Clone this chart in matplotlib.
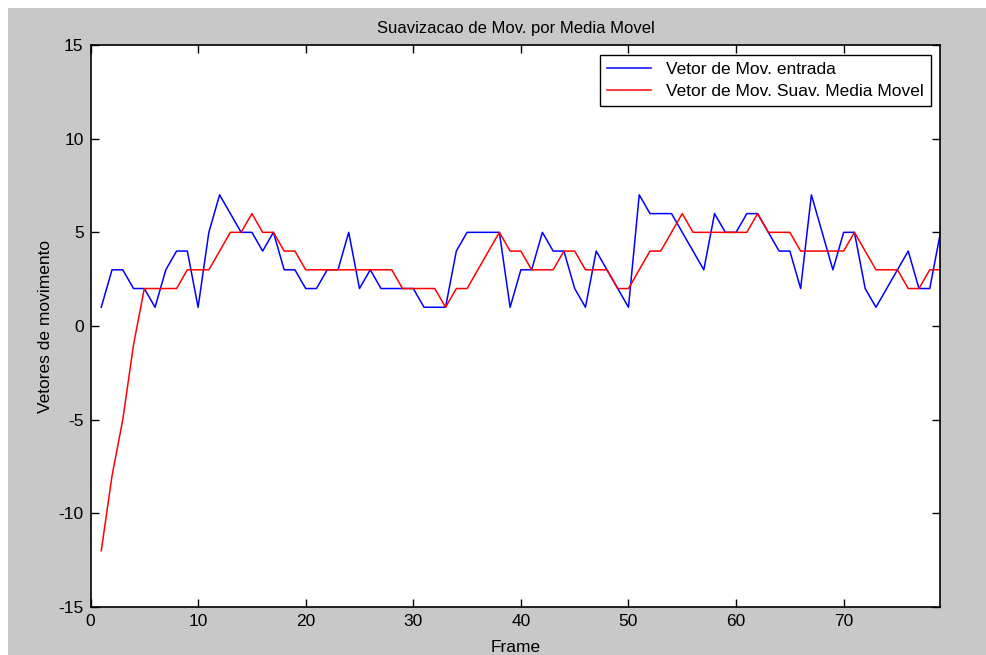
import matplotlib
matplotlib.use("Agg")
import matplotlib.pyplot as plt
import matplotlib.patches as patches

# vetor de movimento de entrada, um valor por frame
frames = list(range(1, 80))
vetor_entrada = [1, 3, 3, 2, 2, 1, 3, 4, 4, 1,
                 5, 7, 6, 5, 5, 4, 5, 3, 3, 2,
                 2, 3, 3, 5, 2, 3, 2, 2, 2, 2,
                 1, 1, 1, 4, 5, 5, 5, 5, 1, 3,
                 3, 5, 4, 4, 2, 1, 4, 3, 2, 1,
                 7, 6, 6, 6, 5, 4, 3, 6, 5, 5,
                 6, 6, 5, 4, 4, 2, 7, 5, 3, 5,
                 5, 2, 1, 2, 3, 4, 2, 2, 5]
# vetor suavizado por media movel
vetor_suave = [-12, -8, -5, -1, 2, 2, 2, 2, 3, 3,
               3, 4, 5, 5, 6, 5, 5, 4, 4, 3,
               3, 3, 3, 3, 3, 3, 3, 3, 2, 2,
               2, 2, 1, 2, 2, 3, 4, 5, 4, 4,
               3, 3, 3, 4, 4, 3, 3, 3, 2, 2,
               3, 4, 4, 5, 6, 5, 5, 5, 5, 5,
               5, 6, 5, 5, 5, 4, 4, 4, 4, 4,
               5, 4, 3, 3, 3, 2, 2, 3, 3]

xticks = [0, 10, 20, 30, 40, 50, 60, 70]
yticks = [-15, -10, -5, 0, 5, 10, 15]

plt.rcParams['font.family'] = ['Liberation Sans', 'DejaVu Sans']
plt.rcParams['axes.unicode_minus'] = False

fig = plt.figure(figsize=(9.87, 6.55), dpi=100, facecolor='white')
# fundo cinza da janela
fig.patches.append(patches.Rectangle((8 / 987, 0), 1, 1 - 8 / 655,
                                     transform=fig.transFigure,
                                     facecolor='#c8c8c8', edgecolor='none', zorder=-10))

ax = fig.add_axes([90.5 / 987, 1 - 607 / 655, 850 / 987, 562 / 655])
ax.set_facecolor('white')

ax.plot(frames, vetor_entrada, color='#0000ff', linewidth=1.1, label='Vetor de Mov. entrada')
ax.plot(frames, vetor_suave, color='#ff0000', linewidth=1.1, label='Vetor de Mov. Suav. Media Movel')

ax.set_xlim(0, 79)
ax.set_ylim(-15, 15)
ax.set_xticks(xticks)
ax.set_yticks(yticks)
ax.tick_params(direction='in', top=True, right=True, length=6, width=1,
               labelsize=12.5, pad=5)
for s in ax.spines.values():
    s.set_linewidth(1.2)

ax.set_title('Suavizacao de Mov. por Media Movel', fontsize=12, pad=9)
ax.set_xlabel('Frame', fontsize=12.5, labelpad=8)
ax.set_ylabel('Vetores de movimento', fontsize=12.5, labelpad=4)

leg = ax.legend(loc='upper right', bbox_to_anchor=(931 / 987, 1 - 55 / 655),
                bbox_transform=fig.transFigure, fontsize=12.5,
                fancybox=False, framealpha=1, edgecolor='black',
                borderpad=0.4, handlelength=2.5, handletextpad=0.9,
                labelspacing=0.4, borderaxespad=0)
leg.get_frame().set_linewidth(1.0)

fig.savefig('out.png', dpi=100, facecolor=fig.get_facecolor())
